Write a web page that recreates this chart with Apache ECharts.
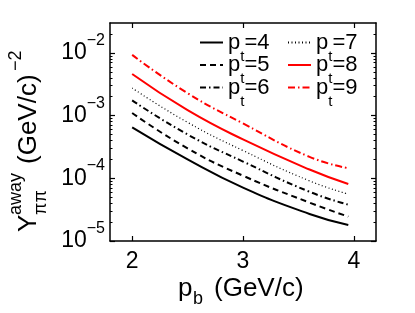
<!DOCTYPE html>
<html><head><meta charset="utf-8">
<script src="https://cdn.jsdelivr.net/npm/echarts@6/dist/echarts.min.js"></script>
<style>html,body{margin:0;padding:0;background:#fff}#c{width:415px;height:313px}</style>
</head><body><div id="c"></div>
<script>
// ---- data ----
const pb = [2, 2.5, 3, 3.6, 3.95];
const ptNames = ['4', '5', '6', '7', '8', '9'];
const y_pt4 = [6.5e-4, 2.0e-4, 7.1e-5, 2.7e-5, 1.8e-5];
const y_pt5 = [1.1e-3, 3.0e-4, 1.1e-4, 4.1e-5, 2.45e-5];
const y_pt6 = [1.75e-3, 5.0e-4, 1.85e-4, 6.1e-5, 3.8e-5];
const y_pt7 = [2.75e-3, 7.8e-4, 2.77e-4, 9.1e-5, 5.6e-5];
const y_pt8 = [4.6e-3, 1.22e-3, 4.17e-4, 1.38e-4, 8.1e-5];
const y_pt9 = [9.3e-3, 2.28e-3, 7.5e-4, 2.2e-4, 1.45e-4];
const xTicks = [2, 3, 4];
const yTicks = [1e-5, 1e-4, 1e-3, 1e-2];
const yMinorMultipliers = [2, 3, 4, 5, 6, 7, 8, 9];

const FF = '"Liberation Sans", Arial, Helvetica, sans-serif';
const yMinor = [];
yTicks.forEach(d => yMinorMultipliers.forEach(m => { if (d * m < 0.03) yMinor.push(d * m); }));

const allY = [y_pt4, y_pt5, y_pt6, y_pt7, y_pt8, y_pt9];
const styles = [
  { color: '#000', width: 2, type: 'solid' },
  { color: '#000', width: 2, type: [6, 4] },
  { color: '#000', width: 2, type: [6, 3, 1.5, 3] },
  { color: '#000', width: 1.2, type: [1, 2.5] },
  { color: '#ff0000', width: 2, type: 'solid' },
  { color: '#ff0000', width: 2, type: [7, 3, 1.5, 3] }
];
const series = ptNames.map((n, i) => ({
  name: 'pt=' + n,
  type: 'line',
  xAxisIndex: 0, yAxisIndex: 0,
  smooth: true,
  symbol: 'none',
  data: pb.map((x, k) => [x, allY[i][k]]),
  lineStyle: styles[i],
  itemStyle: { color: styles[i].color },
  z: 3
}));

const legendPos = [
  { left: 199, top: 31.5 }, { left: 199, top: 54 }, { left: 199, top: 76.5 },
  { left: 287, top: 31.5 }, { left: 287, top: 54 }, { left: 287, top: 76.5 }
];
const legends = ptNames.map((n, i) => ({
  data: ['pt=' + n],
  left: legendPos[i].left, top: legendPos[i].top,
  padding: 0, itemWidth: 23, itemHeight: 12,
  selectedMode: false,
  itemStyle: { opacity: 0 },
  formatter: name => '{p|p}{t|t}{e|=' + name.slice(3) + '}',
  textStyle: {
    color: '#000', fontFamily: FF, fontSize: 22,
    rich: {
      p: { fontSize: 22, fontFamily: FF, color: '#000' },
      t: { fontSize: 15, fontFamily: FF, color: '#000', padding: [28, 0, 0, 0] },
      e: { fontSize: 22, fontFamily: FF, color: '#000' }
    }
  }
}));

const axLine = { show: true, lineStyle: { color: '#000', width: 1.5 } };
const tickMajor = (vals) => ({ show: true, inside: true, length: 5, customValues: vals, lineStyle: { color: '#000', width: 1.2 } });
const tickMinor = (vals) => ({ show: true, inside: true, length: 2.5, customValues: vals, lineStyle: { color: '#000', width: 1 } });

const option = {
  animation: false,
  backgroundColor: '#fff',
  grid: { left: 110, right: 39, top: 23, bottom: 72, containLabel: false },
  legend: legends,
  xAxis: [
    { type: 'value', min: 1.8, max: 4.2, position: 'bottom', axisLine: axLine,
      axisTick: tickMajor(xTicks), splitLine: { show: false },
      axisLabel: { customValues: xTicks, color: '#000', fontSize: 23, fontFamily: FF, margin: 9 } },
    { type: 'value', min: 1.8, max: 4.2, position: 'top', axisLine: axLine,
      axisTick: tickMajor(xTicks), splitLine: { show: false }, axisLabel: { show: false } }
  ],
  yAxis: [
    { type: 'log', min: 1e-5, max: 0.03, position: 'left', axisLine: axLine,
      axisTick: tickMajor(yTicks), splitLine: { show: false }, minorTick: { show: false },
      axisLabel: {
        customValues: yTicks, margin: 5,
        formatter: v => '{b|10}{s|−' + Math.abs(Math.round(Math.log10(v))) + '}',
        rich: {
          b: { fontSize: 23, fontFamily: FF, color: '#000' },
          s: { fontSize: 16, fontFamily: FF, color: '#000', padding: [0, 0, 25, 0] }
        }
      } },
    { type: 'log', min: 1e-5, max: 0.03, position: 'left', offset: 0, axisLine: { show: false },
      axisTick: tickMinor(yMinor), splitLine: { show: false }, axisLabel: { show: false } },
    { type: 'log', min: 1e-5, max: 0.03, position: 'right', offset: 0, axisLine: axLine,
      axisTick: tickMajor(yTicks), splitLine: { show: false }, axisLabel: { show: false } },
    { type: 'log', min: 1e-5, max: 0.03, position: 'right', offset: 0, axisLine: { show: false },
      axisTick: tickMinor(yMinor), splitLine: { show: false }, axisLabel: { show: false } }
  ],
  graphic: [
    { type: 'text', x: 178, y: 289, style: { text: 'p', fontSize: 26, fontFamily: FF, fill: '#000', textAlign: 'left', textVerticalAlign: 'middle' } },
    { type: 'text', x: 193, y: 299, style: { text: 'b', fontSize: 18, fontFamily: FF, fill: '#000', textAlign: 'left', textVerticalAlign: 'middle' } },
    { type: 'text', x: 214, y: 289, style: { text: '(GeV/c)', fontSize: 26, fontFamily: FF, fill: '#000', textAlign: 'left', textVerticalAlign: 'middle' } },
    { type: 'group', x: 37, y: 232, rotation: Math.PI / 2, children: [
      { type: 'text', x: 0, y: -8, style: { text: 'Y', fontSize: 26, fontFamily: FF, fill: '#000', textAlign: 'left', textVerticalAlign: 'middle' } },
      { type: 'text', x: 17, y: -21, style: { text: 'away', fontSize: 18, fontFamily: FF, fill: '#000', textAlign: 'left', textVerticalAlign: 'middle' } },
      { type: 'text', x: 17, y: 4, style: { text: 'ππ', fontSize: 18, fontFamily: FF, fill: '#000', textAlign: 'left', textVerticalAlign: 'middle' } },
      { type: 'text', x: 68, y: -8, style: { text: '(GeV/c)', fontSize: 26, fontFamily: FF, fill: '#000', textAlign: 'left', textVerticalAlign: 'middle' } },
      { type: 'text', x: 161, y: -21, style: { text: '−2', fontSize: 18, fontFamily: FF, fill: '#000', textAlign: 'left', textVerticalAlign: 'middle' } }
    ] }
  ],
  series: series
};
const chart = echarts.init(document.getElementById('c'), null, { renderer: 'canvas' });
chart.setOption(option);
</script>
</body></html>
